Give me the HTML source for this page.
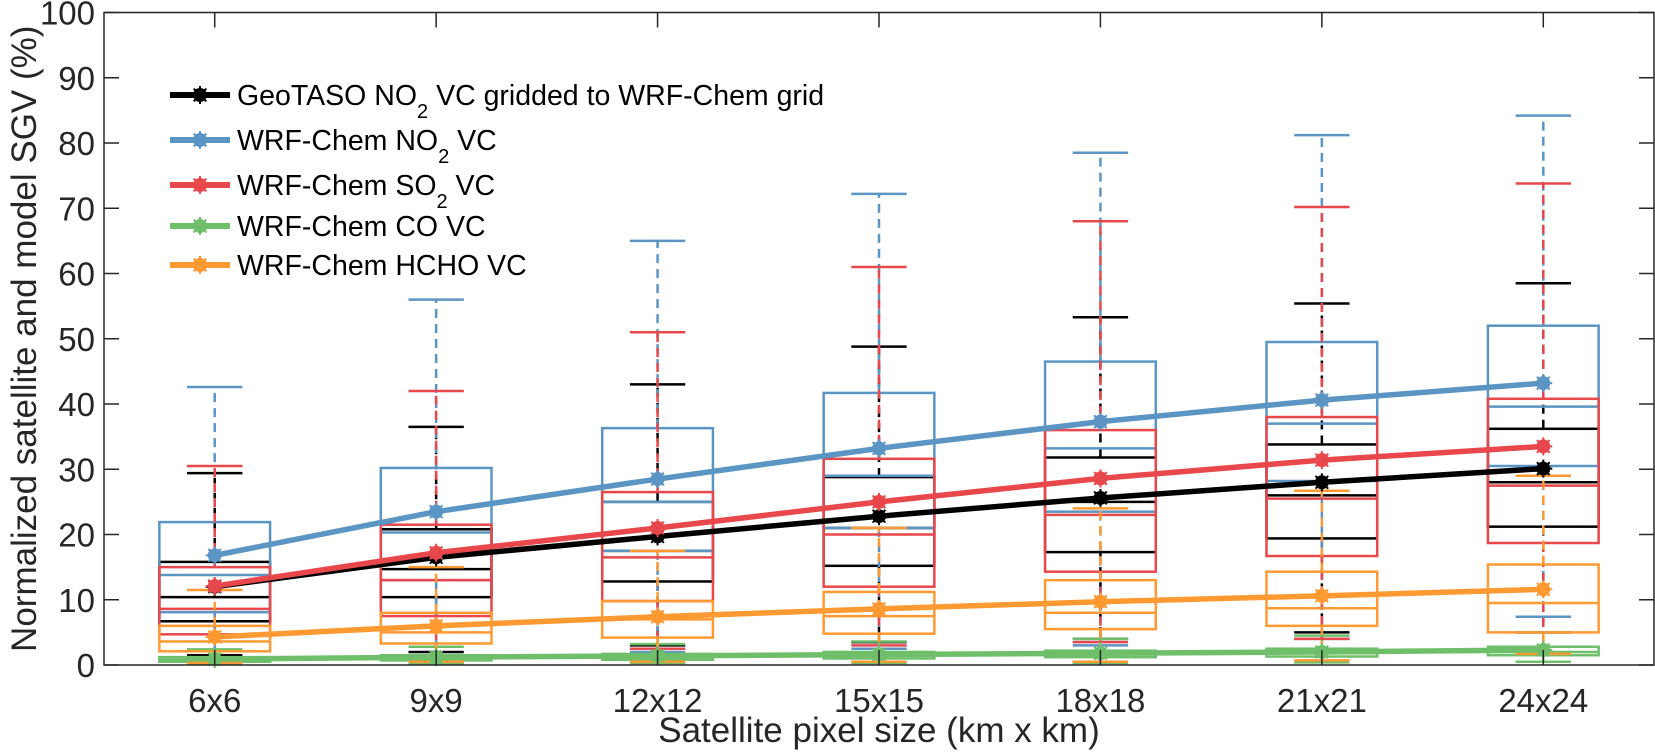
<!DOCTYPE html>
<html><head><meta charset="utf-8"><style>
html,body{margin:0;padding:0;background:#fff;}
svg{display:block;font-family:"Liberation Sans",Arial,sans-serif;}
</style></head><body>
<svg id="chart" width="1655" height="753" viewBox="0 0 1655 753">
<g id="boxes"></g>
<g id="lines"></g>
<g id="axes"></g>
<g id="legend"></g>
</svg>
<script>
const categories = ["6x6","9x9","12x12","15x15","18x18","21x21","24x24"];
const yTicks = [0,10,20,30,40,50,60,70,80,90,100];
// black (GeoTASO NO2)
const blackMean = [12.0,16.5,19.7,22.8,25.6,28.0,30.1];
const blackQ1 = [6.7,10.4,12.8,15.2,17.3,19.4,21.2];
const blackMed = [10.4,14.7,17.5,21.0,25.0,26.0,28.0];
const blackQ3 = [15.8,20.8,25.0,28.8,31.8,33.8,36.2];
const blackLo = [1.5,2.0,3.0,3.5,4.0,5.0,5.0];
const blackHi = [29.4,36.5,43.0,48.8,53.3,55.4,58.5];
// blue (WRF NO2)
const blueMean = [16.8,23.5,28.5,33.2,37.3,40.6,43.2];
const blueQ1 = [8.1,13.0,17.5,21.0,23.5,28.2,30.5];
const blueMed = [13.8,20.3,25.0,29.0,33.2,37.0,39.6];
const blueQ3 = [21.9,30.2,36.3,41.7,46.5,49.5,52.0];
const blueLo = [1.0,1.5,2.0,2.5,3.0,4.0,7.4];
const blueHi = [42.6,56.0,65.0,72.2,78.5,81.2,84.2];
// red (WRF SO2)
const redMean = [12.1,17.2,21.0,25.0,28.6,31.4,33.5];
const redQ1 = [4.7,7.5,9.8,12.0,14.3,16.7,18.7];
const redMed = [8.6,13.0,16.5,20.0,23.0,25.5,27.5];
const redQ3 = [15.0,21.5,26.5,31.6,36.0,38.0,40.8];
const redLo = [0.5,1.0,2.5,3.0,3.5,4.0,5.0];
const redHi = [30.5,42.0,51.0,61.0,68.0,70.2,73.8];
// green (WRF CO)
const greenMean = [0.9,1.2,1.4,1.6,1.8,2.0,2.3];
const greenQ1 = [0.5,0.7,0.8,1.0,1.2,1.3,1.5];
const greenMed = [0.8,1.0,1.2,1.4,1.6,1.8,2.0];
const greenQ3 = [1.2,1.5,1.7,2.0,2.2,2.5,2.8];
const greenLo = [0.2,0.2,0.3,0.3,0.3,0.4,0.5];
const greenHi = [2.4,2.8,3.2,3.6,4.0,4.5,5.0];
// orange (WRF HCHO)
const orangeMean = [4.3,6.0,7.4,8.6,9.7,10.6,11.6];
const orangeQ1 = [2.1,3.3,4.2,4.8,5.5,6.0,5.0];
const orangeMed = [3.6,5.0,7.0,7.5,8.0,8.7,9.5];
const orangeQ3 = [6.0,8.0,9.8,11.2,13.0,14.3,15.4];
const orangeLo = [0.3,0.5,0.5,0.5,0.5,0.7,1.7];
const orangeHi = [11.5,15.0,17.5,21.0,24.0,26.7,29.0];

const PL=104, PR=1654, PT=12.5, PB=665;
const NS="http://www.w3.org/2000/svg";
const band=(PR-PL)/categories.length;
function xPos(i){return PL+(i+0.5)*band;}
function yPos(v){return PB-(Number(v)/100)*(PB-PT);}
function mk(tag,attrs,parent){const e=document.createElementNS(NS,tag);for(const k in attrs)e.setAttribute(k,String(attrs[k]));parent.appendChild(e);return e;}

const boxW=band*0.5, capW=band*0.25;
const gBox=document.getElementById("boxes");
function drawBoxes(key,color,q1,med,q3,lo,hi){
  for(let i=0;i<categories.length;i++){
    const g=mk("g",{},gBox);
    
    
    const x=xPos(i);
    const yq1=yPos(q1[i]), yq3=yPos(q3[i]), ym=yPos(med[i]), yl=yPos(lo[i]), yh=yPos(hi[i]);
    mk("line",{x1:x,x2:x,y1:yq3,y2:yh,stroke:color,"stroke-width":2.5,"stroke-dasharray":"9,6"},g);
    mk("line",{x1:x,x2:x,y1:yq1,y2:yl,stroke:color,"stroke-width":2.5,"stroke-dasharray":"9,6"},g);
    mk("line",{x1:x-capW/2,x2:x+capW/2,y1:yh,y2:yh,stroke:color,"stroke-width":2.5},g);
    mk("line",{x1:x-capW/2,x2:x+capW/2,y1:yl,y2:yl,stroke:color,"stroke-width":2.5},g);
    mk("rect",{x:x-boxW/2,y:yq3,width:boxW,height:Math.max(0,yq1-yq3),fill:"none",stroke:color,"stroke-width":2.5},g);
    mk("line",{x1:x-boxW/2,x2:x+boxW/2,y1:ym,y2:ym,stroke:color,"stroke-width":2.5},g);
  }
}
drawBoxes("geotaso-no2","#000000",blackQ1,blackMed,blackQ3,blackLo,blackHi);
drawBoxes("wrf-no2","#5b95c4",blueQ1,blueMed,blueQ3,blueLo,blueHi);
drawBoxes("wrf-so2","#e8474c",redQ1,redMed,redQ3,redLo,redHi);
drawBoxes("wrf-co","#6fbf6a",greenQ1,greenMed,greenQ3,greenLo,greenHi);
drawBoxes("wrf-hcho","#ff9a33",orangeQ1,orangeMed,orangeQ3,orangeLo,orangeHi);

function marker(x,y,color,parent){
  mk("circle",{cx:x,cy:y,r:7,fill:color},parent);
  for(let a=0;a<4;a++){const an=a*Math.PI/4;mk("line",{x1:x-9*Math.cos(an),y1:y-9*Math.sin(an),x2:x+9*Math.cos(an),y2:y+9*Math.sin(an),stroke:color,"stroke-width":2},parent);}
}
const gLn=document.getElementById("lines");
function drawMean(key,color,mean){
  const g=mk("g",{},gLn);
  
  
  mk("polyline",{points:mean.map((v,i)=>xPos(i)+","+yPos(v)).join(" "),fill:"none",stroke:color,"stroke-width":5.5,"stroke-linejoin":"round"},g);
  mean.forEach((v,i)=>marker(xPos(i),yPos(v),color,g));
}
drawMean("wrf-co","#6fbf6a",greenMean);
drawMean("wrf-hcho","#ff9a33",orangeMean);
drawMean("geotaso-no2","#000000",blackMean);
drawMean("wrf-so2","#e8474c",redMean);
drawMean("wrf-no2","#5b95c4",blueMean);

// axes
const gA=document.getElementById("axes");
const frame=mk("rect",{x:PL,y:PT,width:PR-PL,height:PB-PT,fill:"none",stroke:"#262626","stroke-width":1.5},gA);


yTicks.forEach(v=>{
  const y=yPos(v);
  mk("line",{x1:PL,x2:PL+15,y1:y,y2:y,stroke:"#262626","stroke-width":1.5},gA);
  mk("line",{x1:PR,x2:PR-15,y1:y,y2:y,stroke:"#262626","stroke-width":1.5},gA);
  const t=mk("text",{x:PL-9,y:y+12,"text-anchor":"end","font-size":33,fill:"#262626"},gA);
  t.textContent=v;
  
  
});
categories.forEach((c,i)=>{
  const x=xPos(i);
  mk("line",{x1:x,x2:x,y1:PB,y2:PB-15,stroke:"#262626","stroke-width":1.5},gA);
  mk("line",{x1:x,x2:x,y1:PT,y2:PT+15,stroke:"#262626","stroke-width":1.5},gA);
  const t=mk("text",{x:x,y:PB+47,"text-anchor":"middle","font-size":33,fill:"#262626"},gA);
  t.textContent=c;
  
  
});
const xt=mk("text",{x:(PL+PR)/2,y:742,"text-anchor":"middle","font-size":35,fill:"#262626"},gA);
xt.textContent="Satellite pixel size (km x km)";


const yt=mk("text",{x:0,y:0,"text-anchor":"middle","font-size":35,fill:"#262626",transform:"translate(36,"+((PT+PB)/2)+") rotate(-90)"},gA);
yt.textContent="Normalized satellite and model SGV (%)";



// legend
const gLeg=document.getElementById("legend");
const legKeys=["geotaso-no2","wrf-no2","wrf-so2","wrf-co","wrf-hcho"];
const legColors=["#000000","#5b95c4","#e8474c","#6fbf6a","#ff9a33"];
const legY=[95,140,185,226,265];
const legParts=[["GeoTASO NO","2"," VC gridded to WRF-Chem grid"],["WRF-Chem NO","2"," VC"],["WRF-Chem SO","2"," VC"],["WRF-Chem CO VC","",""],["WRF-Chem HCHO VC","",""]];
legKeys.forEach((k,i)=>{
  const g=mk("g",{},gLeg);
  
  
  const y=legY[i];
  mk("line",{x1:170,x2:230,y1:y,y2:y,stroke:legColors[i],"stroke-width":6},g);
  marker(200,y,legColors[i],g);
  const t=mk("text",{x:237,y:y+10,"font-size":28.5,fill:"#000"},g);
  const p=legParts[i];
  const a=mk("tspan",{},t);a.textContent=p[0];
  if(p[1]){const b=mk("tspan",{dy:13,"font-size":20},t);b.textContent=p[1];
    const c2=mk("tspan",{dy:-13},t);c2.textContent=p[2];}
});
</script>
</body></html>
